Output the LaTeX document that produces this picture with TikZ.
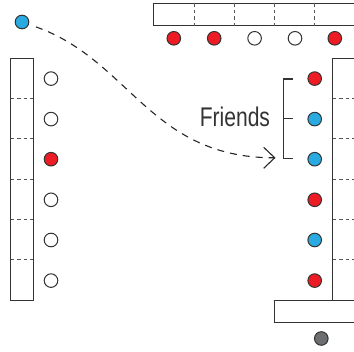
\documentclass[tikz,border=0pt]{standalone}
\usepackage{fontspec}
\setmainfont{Liberation Sans}
\usetikzlibrary{arrows.meta}
\definecolor{cred}{HTML}{ED1C24}
\definecolor{cblue}{HTML}{29ABE2}
\definecolor{cgray}{HTML}{6D6E70}
\definecolor{edge}{HTML}{333333}
\definecolor{divc}{HTML}{555555}
\tikzset{
  seat/.style={circle, draw=edge, line width=1pt, minimum size=13.6pt, inner sep=0pt},
  redseat/.style={seat, fill=cred},
  blueseat/.style={seat, fill=cblue},
  whiteseat/.style={seat, fill=white},
  grayseat/.style={seat, fill=cgray},
  tablebox/.style={draw=edge, line width=1.2pt},
  divider/.style={draw=divc, line width=1pt, dash pattern=on 3.5pt off 3pt},
  bracketline/.style={draw=edge, line width=1.2pt},
  moveline/.style={draw=black!85, line width=1.1pt, dash pattern=on 7pt off 6pt,
    -{Straight Barb[length=11pt,width=21pt,line width=1.1pt]}},
  lbl/.style={inner sep=0pt, text=edge, font=\fontsize{27}{27}\selectfont}
}
\begin{document}
\begin{tikzpicture}[x=1pt,y=-1pt]
\useasboundingbox (0,0) rectangle (354,352);
\clip (0,0) rectangle (354,352);
% left table
\draw[tablebox] (10.7,58.7) rectangle (33.3,300.3);
\foreach \y in {98.7,138.9,179.3,219.7,260} \draw[divider] (10.7,\y) -- (33.3,\y);
% top table
\draw[tablebox] (360,3.5) -- (153.3,3.5) -- (153.3,25.7) -- (360,25.7);
\foreach \x in {194,234.3,274.7,314.7} \draw[divider] (\x,3.5) -- (\x,25.7);
% right table
\draw[tablebox] (360,58.7) -- (332.5,58.7) -- (332.5,300.7);
\foreach \y in {98.7,138.9,179.3,219.7,260} \draw[divider] (332.5,\y) -- (360,\y);
% bottom table
\draw[tablebox] (360,300.7) -- (274.3,300.7) -- (274.3,322.7) -- (360,322.7);
% left seats
\node[whiteseat] (l1) at (51,78.6) {};
\node[whiteseat] (l2) at (51,119.1) {};
\node[redseat]   (l3) at (51,159.2) {};
\node[whiteseat] (l4) at (51,199.8) {};
\node[whiteseat] (l5) at (51,240) {};
\node[whiteseat] (l6) at (51,280.6) {};
% right seats
\node[redseat]  (r1) at (314.7,78.6) {};
\node[blueseat] (r2) at (314.7,119.1) {};
\node[blueseat] (r3) at (314.7,159.2) {};
\node[redseat]  (r4) at (314.7,199.8) {};
\node[blueseat] (r5) at (314.7,240) {};
\node[redseat]  (r6) at (314.7,280.6) {};
% top seats
\node[redseat]   (t1) at (173.8,38.3) {};
\node[redseat]   (t2) at (214.2,38.3) {};
\node[whiteseat] (t3) at (254.6,38.3) {};
\node[whiteseat] (t4) at (295,38.3) {};
\node[redseat]   (t5) at (334.8,38.3) {};
% bottom seat
\node[grayseat] (g1) at (321.3,338.5) {};
% moving person
\node[blueseat] (mover) at (22,22) {};
% bracket
\coordinate (bt) at (283.3,79);
\coordinate (bb) at (283.3,158.3);
\coordinate (bm) at (283.3,118.7);
\draw[bracketline] (292.5,79) -- (bt) -- (bb) -- (292.5,158.3);
\draw[bracketline] (bm) -- (292.5,118.7);
\node[lbl, anchor=base west] (friends) at (199.6,126.7) {\scalebox{0.78}[1]{Friends}};
% movement curve
\coordinate (arrtip) at (275.5,157.8);
\draw[moveline, shorten <=7.5pt] (mover) .. controls (130,60) and (150,157.8) .. (arrtip);
\end{tikzpicture}
\end{document}
